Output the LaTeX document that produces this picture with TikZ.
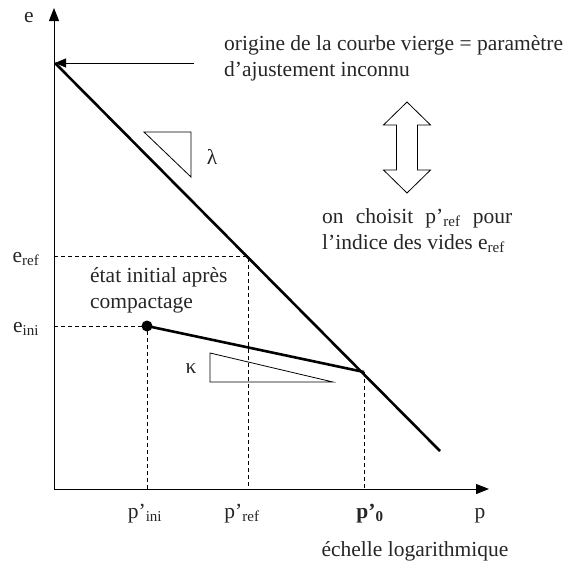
\documentclass[tikz,border=0pt]{standalone}
\usepackage{fontspec}
\setmainfont{Liberation Serif}
\usetikzlibrary{positioning,calc,arrows.meta}

\begin{document}
\begin{tikzpicture}[x=1pt,y=-1pt]
            \tikzset{
                lbl/.style={
                    inner sep=0pt,
                    font=\fontsize{21.5}{26}\selectfont,
                    text=black!85
                }
            }
            \tikzset{
                courbe/.style={
                    line width=2.6pt
                }
            }
            \tikzset{
                proj/.style={
                    dash pattern=on 4pt off 3pt,
                    line width=0.9pt
                }
            }
            \tikzset{
                pente/.style={
                    line width=0.8pt
                }
            }
            \tikzset{
                axe/.style={
                    line width=1pt,
                    -{Triangle[length=13pt,width=10pt]}
                }
            }

            \useasboundingbox (0,0) rectangle (567,562);

            \coordinate (O) at (54,489);
            \coordinate (Ytop) at (54,8);
            \coordinate (Xend) at (489,489);
            \coordinate (V0) at (55,63);
            \coordinate (Forig) at (194,63);
            \coordinate (Vfin) at (440,451);
            \coordinate (Vref) at (248,256);
            \coordinate (P0) at (364,372);
            \node[circle, fill, inner sep=0pt, minimum size=11pt] (Ini) at (147,326) {};

            \draw[axe] (O) -- (Ytop);
            \draw[axe] (O) -- (Xend);

            \draw[proj] (Vref -| O) -- (Vref) -- (Vref |- O);
            \draw[proj] (Ini.center -| O) -- (Ini.center) -- (Ini.center |- O);
            \draw[proj] (P0) -- (P0 |- O);

            \draw[courbe] (V0) -- (Vfin);
            \draw[courbe] (Ini.center) -- (P0);
            \draw[line width=0.8pt, -{Triangle[length=11pt,width=9pt]}] (Forig) -- (V0);

            \draw[pente] (144,132) -- (191,132) -- (191,177) -- cycle;
            \draw[pente] (210,353) -- (210,382) -- (333,382) -- cycle;

            \draw[pente] (407,102) -- (430.5,125) -- (417.5,125) -- (417.5,170) -- (430.5,170)
                -- (407,193) -- (383.5,170) -- (396.5,170) -- (396.5,125) -- (383.5,125) -- cycle;

            \node[lbl] (e) at (29,18) {e};
            \node[lbl] (eref) at (26,259) {e\textsubscript{ref}};
            \node[lbl] (eini) at (26,329) {e\textsubscript{ini}};
            \node[lbl] (lam) at (212,157) {λ};
            \node[lbl] (kap) at (191,369) {κ};

            \node[lbl, anchor=west, align=left] (origine) at (224,58.5) {origine de la courbe vierge = paramètre\\d’ajustement inconnu};
            \node[lbl, anchor=west, align=left] (choix) at (322,230.5) {\makebox[190pt][s]{on choisit p’\textsubscript{ref} pour}\\l’indice des vides e\textsubscript{ref}};
            \node[lbl, anchor=west, align=left] (etat) at (90,290.5) {état initial après\\compactage};

            \node[lbl, anchor=base] (pini) at (145,518) {p’\textsubscript{ini}};
            \node[lbl, anchor=base] (pref) at (242,518) {p’\textsubscript{ref}};
            \node[lbl, anchor=base] (p0) at (370,518) {\textbf{p’\textsubscript{0}}};
            \node[lbl, anchor=base] (p) at (480,518) {p};
            \node[lbl, anchor=base] (echelle) at (415,556) {échelle logarithmique};
\end{tikzpicture}
\end{document}
